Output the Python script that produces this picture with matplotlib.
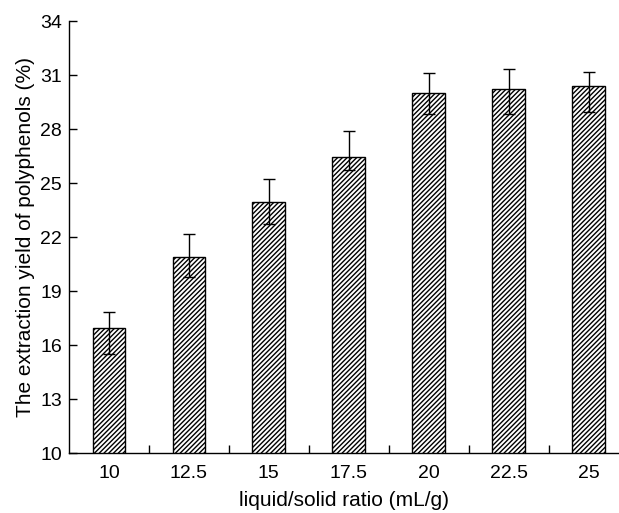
import matplotlib.pyplot as plt
import numpy as np

plt.rcParams['font.family'] = ['Liberation Sans', 'DejaVu Sans']
plt.rcParams['hatch.linewidth'] = 1.0

ratios = ['10', '12.5', '15', '17.5', '20', '22.5', '25']
yield_pct = [16.95, 20.9, 23.95, 26.45, 30.02, 30.2, 30.4]
err_low = [1.45, 1.1, 1.25, 0.75, 1.2, 1.37, 1.46]
err_high = [0.88, 1.25, 1.25, 1.45, 1.08, 1.15, 0.77]

fig = plt.figure(figsize=(6.19, 5.13), dpi=100)
ax = fig.add_axes([69/619, 1-453/513, 550/619, 432/513])

x = np.arange(len(ratios))
ax.bar(x, yield_pct, width=0.41, color='white', edgecolor='black',
       linewidth=1.0, hatch='///////')
ax.errorbar(x, yield_pct, yerr=[err_low, err_high], fmt='none',
            ecolor='black', elinewidth=1.0, capsize=4, capthick=1.0)

ax.set_xlim(-0.5, 6.38)
ax.set_ylim(10, 34)
ax.set_yticks(np.arange(10, 35, 3))
ax.set_xticks(x)
ax.set_xticklabels(ratios)
ax.set_xticks(np.arange(0.5, 6, 1), minor=True)
ax.tick_params(axis='x', which='major', length=0, labelsize=14, pad=9)
ax.tick_params(axis='x', which='minor', direction='in', length=6, width=1)
ax.tick_params(axis='y', direction='in', length=6, width=1, labelsize=14, pad=5)

for s in ['top', 'right']:
    ax.spines[s].set_visible(False)
for s in ['left', 'bottom']:
    ax.spines[s].set_linewidth(1.0)

ax.set_xlabel('liquid/solid ratio (mL/g)', fontsize=15, labelpad=6)
ax.set_ylabel('The extraction yield of polyphenols (%)', fontsize=15, labelpad=4)

fig.savefig('out.png', dpi=100)
